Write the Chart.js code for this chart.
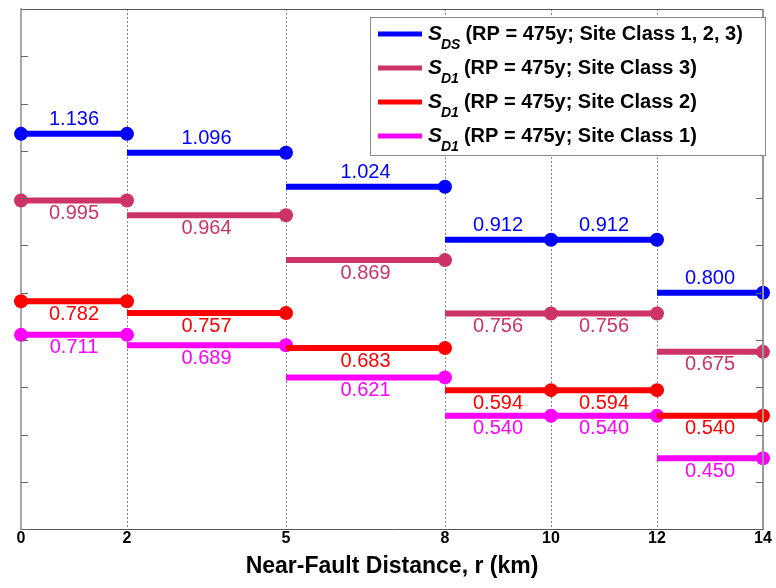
<!DOCTYPE html>
<html>
<head>
<meta charset="utf-8">
<script src="https://cdn.jsdelivr.net/npm/chart.js@4.4.0/dist/chart.umd.min.js"></script>
<style>
  html, body { margin: 0; padding: 0; background: #fff; }
  #wrap { width: 776px; height: 588px; }
</style>
</head>
<body>
<div id="wrap"><canvas id="myChart" width="776" height="588"></canvas></div>
<script>
//------donnees
const breaks = [0, 2, 5, 8, 10, 12, 14];
const sds = [1.136, 1.096, 1.024, 0.912, 0.912, 0.800];
const sd1Class3 = [0.995, 0.964, 0.869, 0.756, 0.756, 0.675];
const sd1Class2 = [0.782, 0.757, 0.683, 0.594, 0.594, 0.540];
const sd1Class1 = [0.711, 0.689, 0.621, 0.540, 0.540, 0.450];

const seriesSub = ['DS', 'D1', 'D1', 'D1'];
const seriesText = [
  '(RP = 475y; Site Class 1, 2, 3)',
  '(RP = 475y; Site Class 3)',
  '(RP = 475y; Site Class 2)',
  '(RP = 475y; Site Class 1)'
];
const colors = ['#0000FF', '#CC3366', '#FF0000', '#FF00FF'];

//transforme un tableau de valeurs en paliers (segments horizontaux)
function steps(values) {
  let pts = [];
  values.forEach((v, i) => {
    pts.push({ x: breaks[i], y: v, m: i === 0 });
    pts.push({ x: breaks[i + 1], y: v, m: true });
    pts.push({ x: breaks[i + 1], y: null });
  });
  return pts;
}

const allSeries = [sds, sd1Class3, sd1Class2, sd1Class1];

const datasets = allSeries.map((vals, k) => ({
  label: seriesText[k],
  data: steps(vals),
  borderColor: colors[k],
  backgroundColor: colors[k],
  borderWidth: 6,
  borderCapStyle: 'butt',
  pointRadius: c => (c.raw && c.raw.m ? 7 : 0),
  pointHoverRadius: 7,
  pointBorderWidth: 0,
  spanGaps: false,
  clip: false,
  tension: 0
}));

const FONT = '"Liberation Sans", Arial, sans-serif';

//plugin : etiquettes, cadre, petites graduations et legende
const decor = {
  id: 'decor',
  afterDatasetsDraw(chart) {
    const c = chart.ctx;
    const xs = chart.scales.x;
    const ys = chart.scales.y;
    const a = chart.chartArea;

    // cadre haut / droite
    c.save();
    c.strokeStyle = '#555';
    c.lineWidth = 1;
    c.beginPath();
    c.moveTo(a.left, a.top + 0.5);
    c.lineTo(a.right, a.top + 0.5);
    c.stroke();
    c.strokeStyle = '#999';
    c.lineWidth = 2;
    c.beginPath();
    c.moveTo(a.right, a.top);
    c.lineTo(a.right, a.bottom);
    c.stroke();

    // graduations y vers l'interieur
    c.strokeStyle = '#666';
    c.lineWidth = 1;
    ys.ticks.forEach(t => {
      const py = Math.round(ys.getPixelForValue(t.value)) + 0.5;
      c.beginPath();
      c.moveTo(a.left, py); c.lineTo(a.left + 7, py);
      c.moveTo(a.right, py); c.lineTo(a.right - 7, py);
      c.stroke();
    });

    // valeurs
    c.font = '20px ' + FONT;
    c.textAlign = 'center';
    c.textBaseline = 'middle';
    allSeries.forEach((vals, k) => {
      c.fillStyle = colors[k];
      vals.forEach((v, i) => {
        const px = xs.getPixelForValue((breaks[i] + breaks[i + 1]) / 2);
        const py = ys.getPixelForValue(v) + (k === 0 ? -14 : 13);
        c.fillText(v.toFixed(3), px, py);
      });
    });

    // legende
    const bx = 370, by = 17, bw = 395, bh = 138;
    c.fillStyle = '#fff';
    c.fillRect(bx, by, bw, bh);
    c.strokeStyle = '#888';
    c.lineWidth = 1;
    c.strokeRect(bx + 0.5, by + 0.5, bw, bh);
    c.textAlign = 'left';
    c.textBaseline = 'alphabetic';
    seriesText.forEach((txt, k) => {
      const ly = 34 + k * 34;
      c.strokeStyle = colors[k];
      c.lineWidth = 5;
      c.beginPath();
      c.moveTo(378, ly); c.lineTo(422, ly);
      c.stroke();
      c.fillStyle = '#000';
      let x = 428;
      c.font = 'italic bold 21px ' + FONT;
      c.fillText('S', x, ly + 6);
      x += c.measureText('S').width - 1;
      c.font = 'italic bold 14px ' + FONT;
      c.fillText(seriesSub[k], x, ly + 15);
      x += c.measureText(seriesSub[k]).width + 5;
      c.font = 'bold 20px ' + FONT;
      c.fillText(txt, x, ly + 6);
    });
    c.restore();
  }
};

const ctx = document.getElementById('myChart');

new Chart(ctx, {
  type: 'line',
  data: { datasets: datasets },
  options: {
    responsive: false,
    animation: false,
    layout: { padding: { left: 21, top: 9, right: 13, bottom: 8 } },
    plugins: {
      legend: { display: false },
      tooltip: { enabled: false }
    },
    scales: {
      x: {
        type: 'linear',
        min: 0,
        max: 14,
        afterBuildTicks: scale => {
          scale.ticks = breaks.map(v => ({ value: v }));
        },
        grid: { color: '#888', lineWidth: 1, drawTicks: false },
        border: { color: '#555', width: 1, dash: [2, 2] },
        ticks: {
          color: '#000',
          padding: 0,
          font: { family: FONT, size: 16, weight: 'bold' }
        },
        title: {
          display: true,
          text: 'Near-Fault Distance, r (km)',
          color: '#000',
          padding: { top: 4, bottom: 0 },
          font: { family: FONT, size: 23, weight: 'bold' }
        }
      },
      y: {
        min: 0.3,
        max: 1.4,
        ticks: { display: false, stepSize: 0.1 },
        grid: { display: false, drawTicks: false },
        border: { color: '#aaa', width: 2 }
      }
    }
  },
  plugins: [decor]
});
</script>
</body>
</html>
